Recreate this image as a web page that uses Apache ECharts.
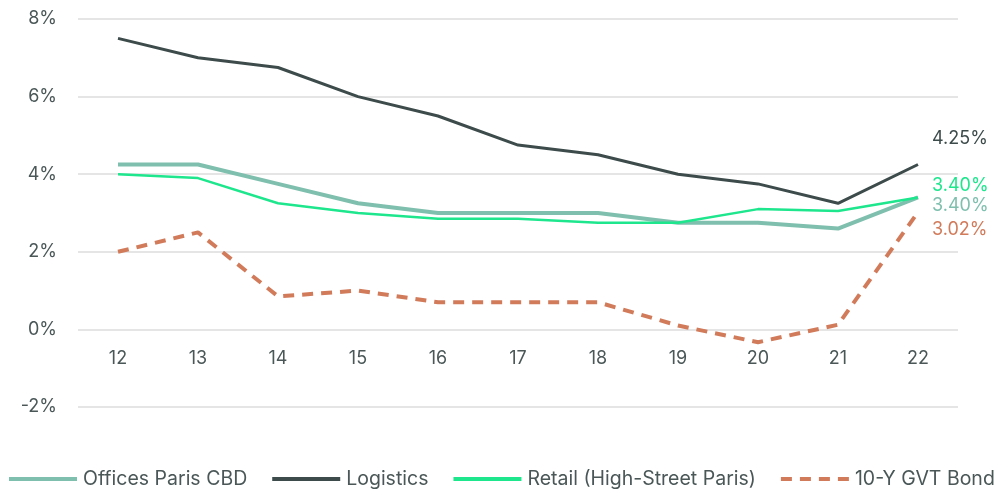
<!DOCTYPE html>
<html><head><meta charset="utf-8">
<script src="https://cdn.jsdelivr.net/npm/echarts@6/dist/echarts.min.js"></script>
<style>html,body{margin:0;padding:0;background:#fff}#c{width:1007px;height:489px}</style>
</head><body><div id="c"></div>
<script>
var categories = ['12','13','14','15','16','17','18','19','20','21','22'];
var offices = [4.25,4.25,3.75,3.25,3.0,3.0,3.0,2.75,2.75,2.6,3.4];
var logistics = [7.5,7.0,6.75,6.0,5.5,4.75,4.5,4.0,3.75,3.25,4.25];
var retail = [4.0,3.9,3.25,3.0,2.85,2.85,2.75,2.75,3.1,3.05,3.4];
var bond = [2.0,2.5,0.85,1.0,0.7,0.7,0.7,0.1,-0.33,0.12,3.02];
var seriesNames = ['Offices Paris CBD','Logistics','Retail (High-Street Paris)','10-Y GVT Bond'];

var FONT = 'Inter, "Noto Sans", sans-serif';
var TXT = '#4b5757';
function mk(name, data, color, width, dashed, offY) {
  return {
    name: name, type: 'line', data: data, symbol: 'none', smooth: false,
    lineStyle: {color: color, width: width, type: dashed ? [11, 8] : 'solid', cap: 'butt'},
    itemStyle: {color: color},
    endLabel: {show: true, color: color, fontSize: 18, fontFamily: FONT,
      offset: [6, offY], formatter: function(p){ return p.value.toFixed(2) + '%'; }},
    emphasis: {disabled: true}
  };
}
var chart = echarts.init(document.getElementById('c'));
chart.setOption({
  animation: false,
  grid: {left: 78, right: 49, top: 19, bottom: 82},
  legend: {
    bottom: 0, left: 7, width: 1000, padding: 0, itemWidth: 68, itemHeight: 14, itemGap: 23,
    itemStyle: {opacity: 0},
    lineStyle: {width: 4},
    textStyle: {fontSize: 19.5, color: TXT, fontFamily: FONT, padding: [0,0,0,1]},
    data: seriesNames
  },
  xAxis: {
    type: 'category', data: categories, boundaryGap: true,
    offset: -77.6,
    axisLine: {show: false},
    axisTick: {show: false},
    axisLabel: {color: TXT, fontSize: 18, fontFamily: FONT, margin: 20}
  },
  yAxis: {
    type: 'value', min: -2, max: 8, interval: 2,
    axisLabel: {color: TXT, fontSize: 18, fontFamily: FONT, margin: 21, formatter: '{value}%'},
    splitLine: {lineStyle: {color: '#dcdcdc', width: 1.5}},
    axisLine: {show: false}, axisTick: {show: false}
  },
  series: [
    mk(seriesNames[0], offices, '#7fbfad', 4, false, 8),
    mk(seriesNames[1], logistics, '#3d4b4b', 3, false, -26),
    mk(seriesNames[2], retail, '#1de68d', 2.5, false, -12),
    mk(seriesNames[3], bond, '#d27b5b', 4, true, 17)
  ]
});
</script></body></html>
